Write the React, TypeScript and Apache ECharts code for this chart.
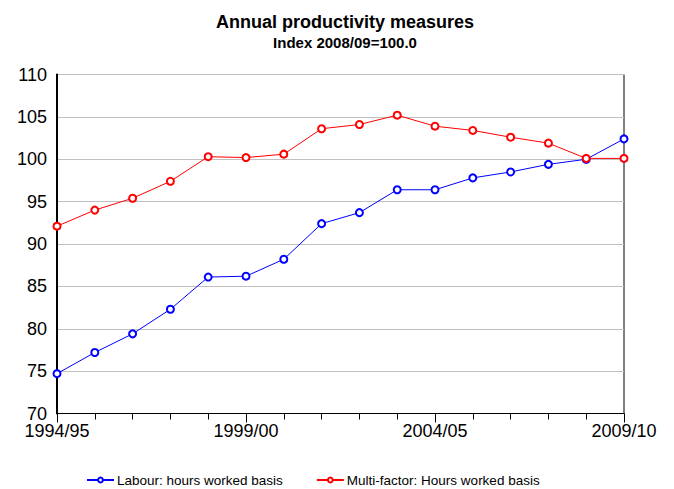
import React, { useEffect, useRef } from "react";
import * as echarts from "echarts";

const categories = [
  "1994/95", "1995/96", "1996/97", "1997/98", "1998/99", "1999/00", "2000/01", "2001/02",
  "2002/03", "2003/04", "2004/05", "2005/06", "2006/07", "2007/08", "2008/09", "2009/10",
];
const labourValues = [74.7, 77.2, 79.4, 82.3, 86.1, 86.2, 88.2, 92.4, 93.7, 96.4, 96.4, 97.8, 98.5, 99.4, 100.0, 102.4];
const multiFactorValues = [92.1, 94.0, 95.4, 97.4, 100.3, 100.2, 100.6, 103.6, 104.1, 105.2, 103.9, 103.4, 102.6, 101.9, 100.1, 100.1];
const seriesNames = ["Labour: hours worked basis", "Multi-factor: Hours worked basis"];
const titleText = "Annual productivity measures";
const subtitleText = "Index 2008/09=100.0";

const FONT = "'Liberation Sans', Arial, sans-serif";

export default function App() {
  const ref = useRef<HTMLDivElement>(null);
  useEffect(() => {
    if (!ref.current) return;
    const chart = echarts.init(ref.current, null, { renderer: "svg" });
    chart.setOption({
      animation: false,
      backgroundColor: "#fff",
      textStyle: { fontFamily: FONT },
      title: {
        text: titleText,
        subtext: subtitleText,
        left: 340,
        textAlign: "center",
        top: 8,
        itemGap: 4,
        textStyle: { fontFamily: FONT, fontSize: 18, fontWeight: "bold", color: "#000" },
        subtextStyle: { fontFamily: FONT, fontSize: 15, fontWeight: "bold", color: "#000" },
      },
      legend: {
        left: 86,
        top: 473,
        padding: 0,
        itemWidth: 27,
        itemHeight: 6,
        itemGap: 33,
        itemStyle: { borderWidth: 1 },
        textStyle: { fontFamily: FONT, fontSize: 13.5, color: "#000", padding: [0, 0, 0, -2] },
        data: seriesNames,
      },
      grid: {
        left: 57,
        right: 50,
        top: 74.5,
        bottom: 75.5,
        show: true,
        borderColor: "#000",
        borderWidth: 1,
        backgroundColor: "transparent",
        containLabel: false,
      },
      xAxis: [
        {
          type: "category",
          data: categories,
          boundaryGap: false,
          axisLine: { show: true, lineStyle: { color: "#000", width: 1 } },
          axisTick: { show: true, interval: 0, length: 6, lineStyle: { color: "#000" } },
          axisLabel: { interval: 4, fontSize: 18, color: "#000", fontFamily: FONT, margin: 8 },
          splitLine: { show: false },
        },
        {
          type: "category",
          data: categories,
          boundaryGap: false,
          position: "bottom",
          axisLine: { show: false },
          axisTick: { show: true, interval: 4, length: 9, lineStyle: { color: "#000" } },
          axisLabel: { show: false },
          splitLine: { show: false },
        },
      ],
      yAxis: {
        type: "value",
        min: 70,
        max: 110,
        interval: 5,
        axisLine: { show: true, lineStyle: { color: "#000", width: 2 } },
        axisTick: { show: false },
        axisLabel: { fontSize: 18, color: "#000", fontFamily: FONT, margin: 10 },
        splitLine: { show: true, lineStyle: { color: "#c0c0c0", width: 1 } },
      },
      series: [
        {
          name: seriesNames[0],
          type: "line",
          data: labourValues,
          symbol: "emptyCircle",
          symbolSize: 7,
          itemStyle: { color: "#0000ff", borderWidth: 1 },
          lineStyle: { color: "#0000ff", width: 1 },
          clip: false,
        },
        {
          name: seriesNames[1],
          type: "line",
          data: multiFactorValues,
          symbol: "emptyCircle",
          symbolSize: 7,
          itemStyle: { color: "#ff0000", borderWidth: 1 },
          lineStyle: { color: "#ff0000", width: 1 },
          clip: false,
        },
      ],
    });
    return () => chart.dispose();
  }, []);
  return (
    <div
      ref={ref}
      style={{ position: "fixed", left: 0, top: 0, width: 674, height: 489 }}
    />
  );
}
